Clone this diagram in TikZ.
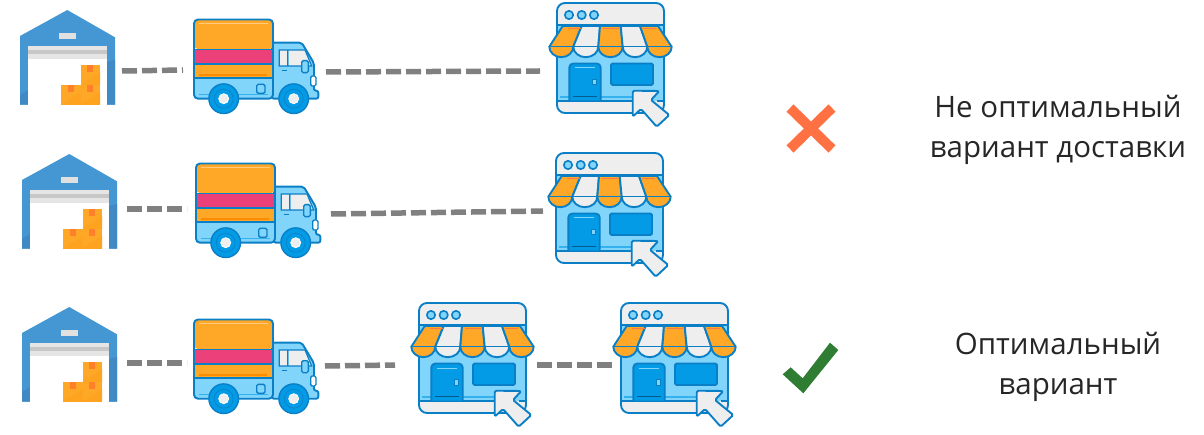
\documentclass[tikz,border=0pt]{standalone}
\usepackage{fontspec}
\setmainfont{Open Sans}
\definecolor{wblue}{HTML}{4497D3}
\definecolor{wdark}{HTML}{3F8AC4}
\definecolor{line}{HTML}{0B7FC6}
\definecolor{lblue}{HTML}{81D4FA}
\definecolor{mblue}{HTML}{039BE5}
\definecolor{orng}{HTML}{FFA726}
\definecolor{dorng}{HTML}{FB8C00}
\definecolor{tabc}{HTML}{FF7F2A}
\definecolor{pinkc}{HTML}{EC407A}
\definecolor{pale}{HTML}{EEEEEE}
\definecolor{dashc}{HTML}{808080}
\definecolor{crossc}{HTML}{FF7043}
\definecolor{tickc}{HTML}{2E7D32}
\tikzset{
  ol/.style={draw=line,line width=1.9pt,line join=round},
  road/.style={draw=dashc,line width=5.5pt,dash pattern=on 15pt off 5pt},
  label/.style={font=\fontsize{29.5}{40.5}\selectfont,align=center,text=black!85,inner sep=0pt},
  pics/warehouse/.style={code={
    \fill[wblue] (67.3,10)--(115,37.3)--(115,104.7)--(20,104.7)--(20,36)--cycle;
    \fill[wdark] (115,60)--(115,104.7)--(107,104.7)--(107,62)--cycle;
    \fill[wdark] (20,95)--(28,90)--(28,104.7)--(20,104.7)--cycle;
    \fill[white] (28.3,45.7) rectangle (106.7,104.7);
    \fill[black!10] (28.3,45.7) rectangle (106.7,59);
    \fill[black!22] (28.3,50.5) rectangle (106.7,54);
    \fill[black!12] (59.3,32.7) rectangle (76,39.3);
    \fill[orng] (80.7,65) rectangle (100,85);
    \fill[orng] (61,85) rectangle (80.7,104.7);
    \fill[orng] (80.7,85) rectangle (100,104.7);
    \fill[orng!85!dorng] (80.7,85)--(100,72)--(100,85)--cycle;
    \fill[orng!85!dorng] (61,104.7)--(80.7,92)--(80.7,104.7)--cycle;
    \fill[orng!85!dorng] (80.7,104.7)--(100,92)--(100,104.7)--cycle;
    \fill[tabc] (87.3,65) rectangle (93.3,71.7);
    \fill[tabc] (67.7,85) rectangle (74,91.7);
    \fill[tabc] (87.3,85) rectangle (93.3,91.7);
  }},
  pics/truck/.style={code={
    % cab
    \path[ol,fill=lblue,rounded corners=2pt] (272,42.7)--(301.7,42.7)--(314,63.3)--(314,90.7)--(318.3,90.7)--(318.3,98.7)--(272,98.7)--cycle;
    \fill[pale] (279.3,50) rectangle (286.7,66);
    \fill[pale] (288.7,50)--(305,50)--(311.7,66)--(288.7,66)--cycle;
    \draw[line,line width=1.2pt] (279.3,50)--(305,50)--(311.7,66)--(279.3,66)--cycle (287.7,50)--(287.7,66);
    \draw[ol,fill=lblue,rounded corners=1.5pt,line width=1.4pt] (301.7,60.7) rectangle (308.3,72.7);
    \draw[ol,fill=white,rounded corners=1.5pt,line width=1.4pt] (310.7,76) rectangle (316,86);
    \draw[line,line width=1.2pt] (281.7,70.7)--(287,70.7);
    % cargo
    \path[fill=lblue,rounded corners=4pt] (194,60)--(194,98.7)--(273,98.7)--(273,60)--cycle;
    \path[fill=orng,rounded corners=4pt] (194,49)--(194,19.5)--(273,19.5)--(273,49)--cycle;
    \fill[pinkc] (194,50) rectangle (273,63.5);
    \fill[orng] (194,64.5) rectangle (273,78);
    \draw[line width=1pt,orng!60!white] (199,24)--(268,24);
    \draw[line width=1.2pt,dorng] (199,75)--(267,75);
    \draw[line width=1pt,mblue!60!lblue] (199,94.5)--(268,94.5);
    \draw[line,line width=1.6pt] (194,49.5)--(273,49.5) (194,64)--(273,64) (194,78.2)--(273,78.2);
    \draw[ol,rounded corners=4pt] (194,19.5) rectangle (273,98.7);
    \draw[ol,fill=lblue,rounded corners=1.5pt,line width=1.4pt] (256.7,84.3) rectangle (265,93.3);
    \foreach \wx in {223.7,293.7}{
      \fill[mblue,draw=line,line width=1.4pt] (\wx,98.7) circle (14.8);
      \draw[line,line width=.6pt] (\wx,98.7) circle (9.5);
      \fill[pale,draw=white,line width=.8pt] (\wx,98.7) circle (5);
    }
  }},
  pics/shop/.style={code={
    \path[fill=lblue] (557,20) rectangle (664,105);
    \path[fill=pale,rounded corners=8pt] (557,35)--(557,3)--(664,3)--(664,35)--cycle;
    \fill[pale] (557,25.3) rectangle (664,20);
    \path[fill=pale,rounded corners=8pt] (557,95)--(557,113)--(664,113)--(664,95)--cycle;
    \fill[lblue] (557,60) rectangle (664,101);
    \fill[lblue] (557,25.3) rectangle (664,40);
    \draw[line width=1.3pt,mblue!60!lblue] (560,97)--(640,97);
    \draw[ol] (557,25.3)--(664,25.3) (557,101)--(634,101) (657,101)--(664,101);
    \foreach \cx in {569,581.7,594}{\draw[ol,fill=lblue,line width=1.6pt] (\cx,15) circle (4.2);}
    \path[ol,fill=mblue,rounded corners=4pt] (569.3,100.5)--(569.3,63.5)--(600.7,63.5)--(600.7,100.5);
    \draw[line!70!black,line width=1.2pt] (573,96.5)--(597,96.5);
    \draw[lblue,line width=1pt] (575,68)--(595,68);
    \draw[ol,fill=lblue,line width=1pt] (592.2,79.5) rectangle (596,85);
    \draw[ol,fill=mblue,rounded corners=1.5pt] (611,63.5) rectangle (653,85);
    \draw[ol,rounded corners=8pt] (557,3) rectangle (664,113);
    \foreach \xa/\xb/\xc/\xd/\col in {562.7/581.7/573.3/549.3/orng,581.7/600/598.3/573.3/pale,600/620.7/622.7/598.3/orng,620.7/640/647.3/622.7/pale,640/658/671.7/647.3/orng}{
      \draw[ol,fill=\col] (\xa,26)--(\xb,26)--(\xc,46.7) arc[start angle=0,end angle=180,x radius={(\xc-\xd)/2},y radius=10.5]--cycle;
      \draw[line,line width=1.4pt] (\xc,46.7)--(\xd,46.7);
    }
    \draw[pinkc!45!orng,line width=.8pt] (568,28.5)--(581,28.5) (603,28.5)--(619,28.5) (643,28.5)--(656,28.5);
    \path[ol,fill=pale,rounded corners=1.5pt] (632.7,90.7)--(659.3,91)--(651,100)--(669.3,115)--(656.7,126.7)--(641,109)--(632.7,116.7)--cycle;
  }},
}
\begin{document}
\begin{tikzpicture}[x=1pt,y=-1pt]
\useasboundingbox (0,0) rectangle (1204,435);
% row coordinates
\coordinate (w1) at (0,0);    \coordinate (t1) at (0,0);     \coordinate (s1) at (0,0);
\coordinate (w2) at (2,144);  \coordinate (t2) at (2,144);   \coordinate (s2) at (-1,150);
\coordinate (w3) at (2,297);  \coordinate (t3) at (0,300);   \coordinate (s3) at (-138,300);
\coordinate (s4) at (64,300);
\pic (wa) at (w1) {warehouse};
\pic (wb) at (w2) {warehouse};
\pic (wc) at (w3) {warehouse};
\pic (ta) at (t1) {truck};
\pic (tb) at (t2) {truck};
\pic (tc) at (t3) {truck};
\pic (sa) at (s1) {shop};
\pic (sb) at (s2) {shop};
\pic (sc) at (s3) {shop};
\pic (sd) at (s4) {shop};
% free ends of the dashed connectors
\coordinate (a1) at (122,71);  \coordinate (a2) at (183,70);
\coordinate (a3) at (326,72);  \coordinate (a4) at (540,71);
\coordinate (b1) at (127,209); \coordinate (b2) at (187,209);
\coordinate (b3) at (331,214); \coordinate (b4) at (543,211);
\coordinate (c1) at (127,363); \coordinate (c2) at (187,363);
\coordinate (c3) at (325,366); \coordinate (c4) at (395,365);
\coordinate (c5) at (537,365); \coordinate (c6) at (612,365);
\foreach \p/\q in {a1/a2,a3/a4,b1/b2,b3/b4,c1/c2,c3/c4,c5/c6}{\draw[road] (\p)--(\q);}
% cross and tick
\draw[crossc,line width=10pt] (790,108)--(832,149) (832,108)--(790,149);
\fill[tickc] (782.7,374.3)--(790.7,367.3)--(802.7,378.3)--(830,342.7)--(838.3,350)--(803.3,393.3)--cycle;
\node[label] (n1) at (1058,130) {Не оптимальный\\вариант доставки};
\node[label] (n2) at (1058,367) {Оптимальный\\вариант};
\end{tikzpicture}
\end{document}
